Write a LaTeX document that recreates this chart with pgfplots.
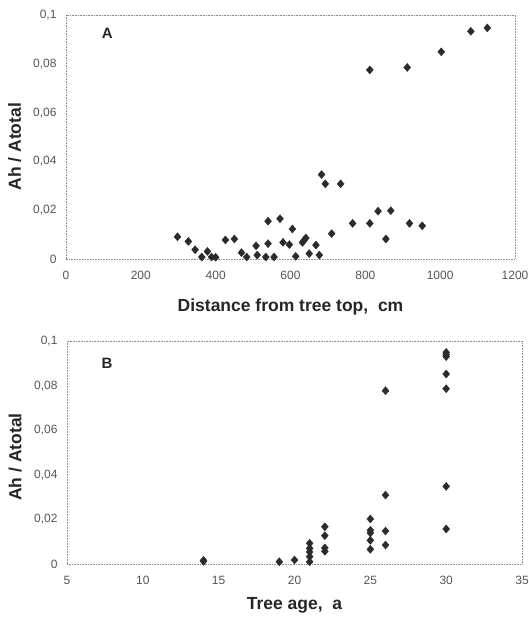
\documentclass[border=0pt]{standalone}
\usepackage{pgfplots}
\pgfplotsset{compat=1.18}
\usepackage{fontspec}
\setmainfont{Liberation Sans}

\definecolor{markc}{HTML}{2B2B2B}
\definecolor{tickc}{HTML}{555555}
\definecolor{framec}{HTML}{8A8A8A}

\tikzset{letter/.style={font=\fontsize{15}{17}\selectfont\bfseries, color=black!85}}

\pgfplotsset{
  panel/.style={
    scale only axis,
    anchor=south west,
    axis line style={framec, densely dotted, line width=0.6pt},
    major tick length=0pt,
    ymin=0, ymax=0.1,
    ytick={0,0.02,0.04,0.06,0.08,0.1},
    tick label style={tickc, font=\fontsize{12}{14}\selectfont},
    /pgf/number format/assume math mode=true,
    /pgf/number format/use comma,
    /pgf/number format/1000 sep={},
    yticklabel style={/pgf/number format/fixed, /pgf/number format/precision=2},
    xticklabel style={yshift=-9pt},
    yticklabel style={xshift=-6pt},
    label style={font=\fontsize{17.5}{20}\selectfont\bfseries, color=black!85},
    ylabel={Ah / Atotal},
  },
  pts/.style={only marks, mark=diamond*, mark size=4pt,
    color=markc, mark options={fill=markc, draw=markc, xscale=1.15}},
}

\begin{document}
\begin{tikzpicture}
\path[use as bounding box] (0pt,0pt) rectangle (528pt,617pt);

% panel A
\begin{axis}[panel,
  at={(66pt,358pt)}, width=449pt, height=244pt,
  xmin=0, xmax=1200, xtick={0,200,...,1200},
  xlabel={Distance from tree top,\ \ cm},
  xlabel style={at={(axis description cs:0.5,-0.197)}, anchor=center},
  ylabel style={at={(axis description cs:-0.114,0.46)}, anchor=center},
]
\addplot[pts] coordinates {
(1082,0.0933) (1126,0.0947) (1003,0.0849) (812,0.0775) (912,0.0785)
(683,0.0346) (693,0.0308) (734,0.0308)
(834,0.0196) (868,0.0198) (766,0.0146) (812,0.0146) (918,0.0146) (952,0.0136)
(855,0.0082) (710,0.0104)
(540,0.0155) (572,0.0165) (605,0.0123)
(298,0.0091) (327,0.0072) (345,0.0038) (363,0.0008) (378,0.0031) (389,0.0008) (400,0.0007)
(426,0.0078) (450,0.0082) (469,0.0026) (483,0.0008)
(508,0.0054) (511,0.0016) (534,0.0008) (540,0.0063) (556,0.0008)
(580,0.0068) (597,0.0059) (614,0.0011) (632,0.0068) (636,0.0076) (641,0.0086)
(650,0.0022) (668,0.0057) (677,0.0016)
};
\node[letter] at (axis description cs:0.092,0.925) {A};
\end{axis}

% panel B
\begin{axis}[panel,
  at={(67pt,53pt)}, width=455pt, height=223pt,
  xmin=5, xmax=35, xtick={5,10,...,35},
  xlabel={Tree age,\ \ a},
  xlabel style={at={(axis description cs:0.5,-0.184)}, anchor=center},
  ylabel style={at={(axis description cs:-0.114,0.48)}, anchor=center},
]
\addplot[pts] coordinates {
(14,0.0016) (14,0.0012)
(19,0.0010) (20,0.0018)
(21,0.0010) (21,0.0033) (21,0.0054) (21,0.0070) (21,0.0093)
(22,0.0167) (22,0.0127) (22,0.0072) (22,0.0057)
(25,0.0202) (25,0.0151) (25,0.0139) (25,0.0106) (25,0.0066)
(26,0.0777) (26,0.0309) (26,0.0148) (26,0.0085)
(30,0.0949) (30,0.0939) (30,0.0930) (30,0.0852) (30,0.0786) (30,0.0348) (30,0.0157)
};
\node[letter] at (axis description cs:0.088,0.9) {B};
\end{axis}
\end{tikzpicture}
\end{document}
